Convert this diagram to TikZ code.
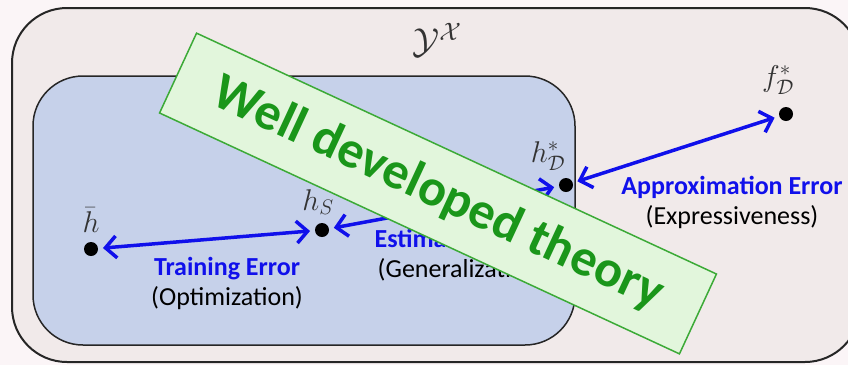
\documentclass[tikz,border=0pt]{standalone}
\usepackage{fix-cm}
\usepackage[no-math]{fontspec}
\newfontfamily\slidefont{Carlito}
\usetikzlibrary{arrows.meta}

\definecolor{pagebg}{RGB}{251,245,247}
\definecolor{spacefill}{RGB}{241,234,234}
\definecolor{classfill}{RGB}{198,209,234}
\definecolor{errblue}{RGB}{16,16,235}
\definecolor{bannerfill}{RGB}{226,246,220}
\definecolor{bannerline}{RGB}{60,170,55}
\definecolor{bannertext}{RGB}{26,150,26}

\tikzset{
  dotnode/.style={circle, fill=black, inner sep=0pt, minimum size=14pt, outer sep=5pt},
  errarrow/.style={draw=errblue, line width=3.5pt,
    {Straight Barb[length=11pt,width=22pt]}-{Straight Barb[length=11pt,width=22pt]}},
  errlabel/.style={font=\slidefont\fontsize{26}{30}\selectfont, align=center},
  mathlabel/.style={font=\fontsize{30}{34}\selectfont, text=black!80},
  banner/.style={draw=bannerline, line width=1.5pt, fill=bannerfill, text=bannertext,
    rotate=-24.86, minimum width=573pt, minimum height=88pt, inner sep=0pt,
    font=\slidefont\bfseries\fontsize{52}{60}\selectfont}
}

\begin{document}
\begin{tikzpicture}[x=1pt,y=-1pt]
  \useasboundingbox (0,0) rectangle (848,365);
  \fill[pagebg] (0,0) rectangle (848,365);
  % Space of all functions
  \draw[line width=2pt, draw=black!85, fill=spacefill, rounded corners=55pt] (12,8) rectangle (860,362);
  \node[font=\fontsize{36}{40}\selectfont, text=black!80] (spacelab) at (437,40) {$\mathcal{Y}^{\mathcal{X}}$};
  % Hypothesis class
  \draw[line width=1.5pt, draw=black!85, fill=classfill, rounded corners=50pt] (33,76) rectangle (575,345);
  % Points
  \node[dotnode] (hbar) at (91,249) {};
  \node[dotnode] (hs) at (322,230) {};
  \node[dotnode] (hd) at (566,185) {};
  \node[dotnode] (fd) at (786,114) {};
  \node[mathlabel] (hbarlab) at (91,220) {$\bar{h}$};
  \node[mathlabel] (hslab) at (318,202) {$h_S$};
  \node[mathlabel] (hdlab) at (548,156) {$h^*_{\mathcal{D}}$};
  \node[mathlabel] (fdlab) at (778,80) {$f^*_{\mathcal{D}}$};
  % Errors
  \draw[errarrow] (hbar) -- (hs);
  \draw[errarrow] (hs) -- (hd);
  \draw[errarrow] (hd) -- (fd);
  \node[errlabel] (trainlab) at (227,283) {{\color{errblue}\bfseries Training Error}\\(Optimization)};
  \node[errlabel] (estlab) at (462,255) {{\color{errblue}\bfseries Estimation Error}\\(Generalization)};
  \node[errlabel] (approxlab) at (732,202) {{\color{errblue}\bfseries Approximation Error}\\(Expressiveness)};
  % Banner
  \node[banner] (banner) at (438,193.5) {Well developed theory};
\end{tikzpicture}
\end{document}
